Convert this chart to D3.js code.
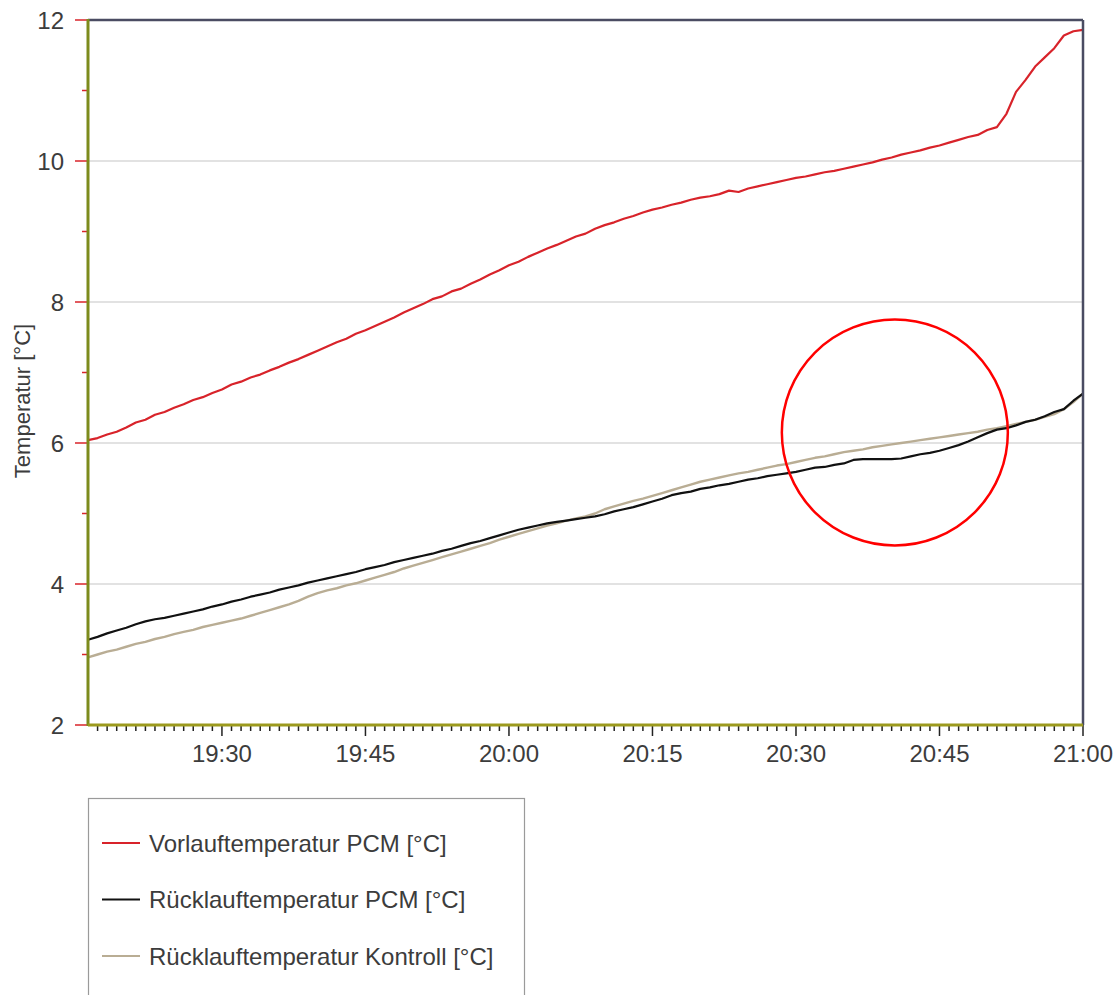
<!DOCTYPE html>
<html>
<head>
<meta charset="utf-8">
<script src="https://cdn.jsdelivr.net/npm/d3@7/dist/d3.min.js"></script>
<style>
  html, body { margin: 0; padding: 0; background: #fff; }
  svg { display: block; font-family: "Liberation Sans", Arial, sans-serif; }
</style>
</head>
<body>
<svg id="chart" width="1116" height="995"></svg>
<script>
// Sampling grid: one reading per minute starting at 19:16
const startTime = "19:16";
const endTime = "21:00";

// Vorlauftemperatur PCM [°C]
const vorlaufPCM = [
  6.04, 6.07, 6.12, 6.16, 6.22, 6.29, 6.33, 6.40, 6.44, 6.50,
  6.55, 6.61, 6.65, 6.71, 6.76, 6.83, 6.87, 6.93, 6.97, 7.03,
  7.08, 7.14, 7.19, 7.25, 7.31, 7.37, 7.43, 7.48, 7.55, 7.60,
  7.66, 7.72, 7.78, 7.85, 7.91, 7.97, 8.04, 8.08, 8.15, 8.19,
  8.26, 8.32, 8.39, 8.45, 8.52, 8.57, 8.64, 8.70, 8.76, 8.81,
  8.87, 8.93, 8.97, 9.04, 9.09, 9.13, 9.18, 9.22, 9.27, 9.31,
  9.34, 9.38, 9.41, 9.45, 9.48, 9.50, 9.53, 9.58, 9.56, 9.61,
  9.64, 9.67, 9.70, 9.73, 9.76, 9.78, 9.81, 9.84, 9.86, 9.89,
  9.92, 9.95, 9.98, 10.02, 10.05, 10.09, 10.12, 10.15, 10.19, 10.22,
  10.26, 10.30, 10.34, 10.37, 10.44, 10.48, 10.67, 10.98, 11.15, 11.34,
  11.47, 11.60, 11.78, 11.84, 11.86
];

// Rücklauftemperatur PCM [°C]
const ruecklaufPCM = [
  3.21, 3.25, 3.30, 3.34, 3.38, 3.43, 3.47, 3.50, 3.52, 3.55,
  3.58, 3.61, 3.64, 3.68, 3.71, 3.75, 3.78, 3.82, 3.85, 3.88,
  3.92, 3.95, 3.98, 4.02, 4.05, 4.08, 4.11, 4.14, 4.17, 4.21,
  4.24, 4.27, 4.31, 4.34, 4.37, 4.40, 4.43, 4.47, 4.50, 4.54,
  4.58, 4.61, 4.65, 4.69, 4.73, 4.77, 4.80, 4.83, 4.86, 4.88,
  4.90, 4.92, 4.94, 4.96, 4.99, 5.03, 5.06, 5.09, 5.13, 5.17,
  5.21, 5.26, 5.29, 5.31, 5.35, 5.37, 5.40, 5.42, 5.45, 5.48,
  5.50, 5.53, 5.55, 5.57, 5.59, 5.62, 5.65, 5.66, 5.69, 5.71,
  5.76, 5.77, 5.77, 5.77, 5.77, 5.78, 5.81, 5.84, 5.86, 5.89,
  5.93, 5.97, 6.02, 6.08, 6.14, 6.19, 6.21, 6.25, 6.30, 6.33,
  6.38, 6.44, 6.48, 6.60, 6.70
];

// Rücklauftemperatur Kontroll [°C]
const ruecklaufKontroll = [
  2.96, 3.00, 3.04, 3.07, 3.11, 3.15, 3.18, 3.22, 3.25, 3.29,
  3.32, 3.35, 3.39, 3.42, 3.45, 3.48, 3.51, 3.55, 3.59, 3.63,
  3.67, 3.71, 3.76, 3.82, 3.87, 3.91, 3.94, 3.98, 4.01, 4.05,
  4.09, 4.13, 4.17, 4.22, 4.26, 4.30, 4.34, 4.38, 4.42, 4.46,
  4.50, 4.54, 4.58, 4.63, 4.67, 4.71, 4.75, 4.79, 4.83, 4.86,
  4.90, 4.93, 4.96, 5.00, 5.06, 5.10, 5.14, 5.18, 5.21, 5.25,
  5.29, 5.33, 5.37, 5.41, 5.45, 5.48, 5.51, 5.54, 5.57, 5.59,
  5.62, 5.65, 5.68, 5.70, 5.73, 5.76, 5.79, 5.81, 5.84, 5.87,
  5.89, 5.91, 5.94, 5.96, 5.98, 6.00, 6.02, 6.04, 6.06, 6.08,
  6.10, 6.12, 6.14, 6.16, 6.19, 6.21, 6.24, 6.27, 6.30, 6.33,
  6.37, 6.41, 6.48, 6.58, 6.70
];

const seriesNames = [
  "Vorlauftemperatur PCM [°C]",
  "Rücklauftemperatur PCM [°C]",
  "Rücklauftemperatur Kontroll [°C]"
];
const seriesColors = ["#d8232a", "#111111", "#b9ad94"];

const yTicks = [2, 4, 6, 8, 10, 12];
const xTickLabels = ["19:30", "19:45", "20:00", "20:15", "20:30", "20:45", "21:00"];

// Highlight ring around the region where the PCM return dips below the control
const highlight = { time: "20:40:20", value: 6.15, radius: 113 };

const parseHM = d3.timeParse("%H:%M");
const parseHMS = d3.timeParse("%H:%M:%S");
const t0 = parseHM(startTime);
const t1 = parseHM(endTime);
const times = vorlaufPCM.map((_, i) => d3.timeMinute.offset(t0, i));

const plot = { left: 88, right: 1083, top: 20, bottom: 725 };

const x = d3.scaleTime().domain([t0, t1]).range([plot.left, plot.right]);
const y = d3.scaleLinear().domain([2, 12]).range([plot.bottom, plot.top]);

const svg = d3.select("#chart");

// Horizontal gridlines
svg.append("g")
  .selectAll("line")
  .data(yTicks.filter(v => v > 2 && v < 12))
  .join("line")
  .attr("x1", plot.left).attr("x2", plot.right)
  .attr("y1", d => y(d)).attr("y2", d => y(d))
  .attr("stroke", "#d9d9d9").attr("stroke-width", 1.5);

// Series
const line = d3.line()
  .x((d, i) => x(times[i]))
  .y(d => y(d))
  .curve(d3.curveLinear);

const seriesData = [vorlaufPCM, ruecklaufPCM, ruecklaufKontroll];
// draw control first, then PCM return, then supply on top
[2, 1, 0].forEach(k => {
  svg.append("path")
    .datum(seriesData[k])
    .attr("d", line)
    .attr("fill", "none")
    .attr("stroke", seriesColors[k])
    .attr("stroke-width", k === 2 ? 2.4 : 2.2)
    .attr("stroke-linejoin", "round");
});

// Top and right frame
svg.append("line")
  .attr("x1", plot.left).attr("x2", plot.right)
  .attr("y1", plot.top).attr("y2", plot.top)
  .attr("stroke", "#4a4c62").attr("stroke-width", 2.5);
svg.append("line")
  .attr("x1", plot.right).attr("x2", plot.right)
  .attr("y1", plot.top).attr("y2", plot.bottom)
  .attr("stroke", "#4a4c62").attr("stroke-width", 2.5);

// Y axis: major and minor ticks in red, line in olive
const yAxis = svg.append("g");
const yMinor = d3.range(3, 12, 2);
yAxis.selectAll("line.minor")
  .data(yMinor).join("line")
  .attr("class", "minor")
  .attr("x1", plot.left - 6).attr("x2", plot.left)
  .attr("y1", d => y(d)).attr("y2", d => y(d))
  .attr("stroke", "#d8232a").attr("stroke-width", 1.5);
yAxis.selectAll("line.major")
  .data(yTicks).join("line")
  .attr("class", "major")
  .attr("x1", plot.left - 13).attr("x2", plot.left)
  .attr("y1", d => y(d)).attr("y2", d => y(d))
  .attr("stroke", "#d8232a").attr("stroke-width", 1.5);
yAxis.selectAll("text")
  .data(yTicks).join("text")
  .attr("x", plot.left - 24)
  .attr("y", d => y(d))
  .attr("dy", "0.36em")
  .attr("text-anchor", "end")
  .attr("font-size", 24)
  .attr("fill", "#3c3c3c")
  .text(d => d);
yAxis.append("line")
  .attr("x1", plot.left).attr("x2", plot.left)
  .attr("y1", plot.top - 1).attr("y2", plot.bottom + 1)
  .attr("stroke", "#7d8b1c").attr("stroke-width", 3);

// X axis: minute ticks, longer ticks every 15 minutes
const xAxis = svg.append("g");
const minuteTicks = d3.timeMinute.range(d3.timeMinute.offset(t0, 1), d3.timeMinute.offset(t1, 1));
const majorSet = new Set(xTickLabels.map(s => parseHM(s).getTime()));
xAxis.selectAll("line")
  .data(minuteTicks).join("line")
  .attr("x1", d => x(d)).attr("x2", d => x(d))
  .attr("y1", plot.bottom)
  .attr("y2", d => plot.bottom + (majorSet.has(d.getTime()) ? 11 : 6))
  .attr("stroke", "#222").attr("stroke-width", 1.5);
xAxis.selectAll("text")
  .data(xTickLabels).join("text")
  .attr("x", d => x(parseHM(d)))
  .attr("y", 762)
  .attr("text-anchor", "middle")
  .attr("font-size", 24)
  .attr("fill", "#3c3c3c")
  .text(d => d);
xAxis.append("line")
  .attr("x1", plot.left).attr("x2", plot.right)
  .attr("y1", plot.bottom).attr("y2", plot.bottom)
  .attr("stroke", "#9c9a1e").attr("stroke-width", 3);

// Y axis title
svg.append("text")
  .attr("transform", `translate(30,401) rotate(-90)`)
  .attr("text-anchor", "middle")
  .attr("font-size", 22)
  .attr("fill", "#3c3c3c")
  .text("Temperatur [°C]");

// Highlight ring
svg.append("circle")
  .attr("cx", x(parseHMS(highlight.time)))
  .attr("cy", y(highlight.value))
  .attr("r", highlight.radius)
  .attr("fill", "none")
  .attr("stroke", "#ff0000")
  .attr("stroke-width", 2.5);

// Legend
const legend = svg.append("g");
legend.append("rect")
  .attr("x", 88.5).attr("y", 798.5)
  .attr("width", 436).attr("height", 220)
  .attr("fill", "#fff")
  .attr("stroke", "#9a9a9a").attr("stroke-width", 1.2);
const legendRows = legend.selectAll("g.row")
  .data(seriesNames).join("g")
  .attr("class", "row")
  .attr("transform", (d, i) => `translate(0,${843 + i * 56.5})`);
legendRows.append("line")
  .attr("x1", 102).attr("x2", 140)
  .attr("y1", 0).attr("y2", 0)
  .attr("stroke", (d, i) => seriesColors[i])
  .attr("stroke-width", 2);
legendRows.append("text")
  .attr("x", 149).attr("y", 0)
  .attr("dy", "0.36em")
  .attr("font-size", 24)
  .attr("fill", "#3c3c3c")
  .text(d => d);
</script>
</body>
</html>
